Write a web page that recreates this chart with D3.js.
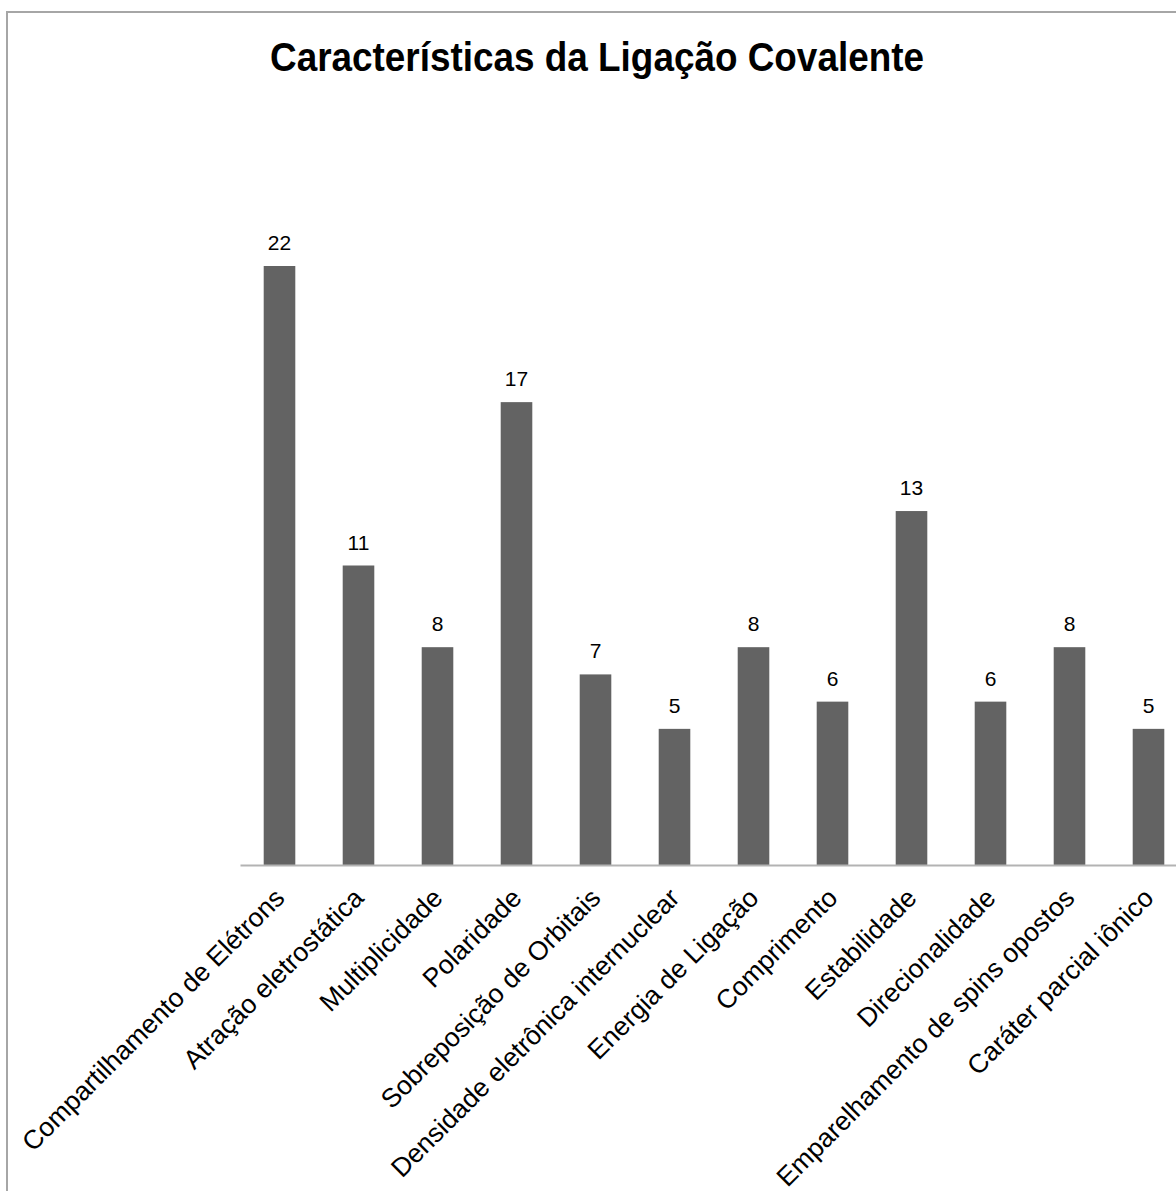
<!DOCTYPE html>
<html>
<head>
<meta charset="utf-8">
<script src="https://cdn.jsdelivr.net/npm/d3@7"></script>
<style>
  html, body { margin: 0; padding: 0; background: #fff; }
  svg { display: block; }
  text { font-family: "Liberation Sans", Arial, sans-serif; }
</style>
</head>
<body>
<svg id="chart" width="1176" height="1191"></svg>
<script>
const title = "Características da Ligação Covalente";
const categories = [
  "Compartilhamento de Elétrons",
  "Atração eletrostática",
  "Multiplicidade",
  "Polaridade",
  "Sobreposição de Orbitais",
  "Densidade eletrônica internuclear",
  "Energia de Ligação",
  "Comprimento",
  "Estabilidade",
  "Direcionalidade",
  "Emparelhamento de spins opostos",
  "Caráter parcial iônico"
];
const values = [22, 11, 8, 17, 7, 5, 8, 6, 13, 6, 8, 5];
const yDomain = [0, 25];

const svg = d3.select("#chart");

// outer frame (left and top edges visible)
svg.append("rect")
  .attr("x", 7).attr("y", 12)
  .attr("width", 1200).attr("height", 1200)
  .attr("fill", "none")
  .attr("stroke", "#a6a6a6")
  .attr("stroke-width", 2);

const plotLeft = 240, baseY = 865, step = 79;
const x = d3.scaleBand()
  .domain(categories)
  .range([plotLeft, plotLeft + step * categories.length])
  .paddingInner(0.6)
  .paddingOuter(0.3);

const unit = 599 / 22;
const y = d3.scaleLinear()
  .domain(yDomain)
  .range([baseY, baseY - unit * yDomain[1]]);

// bars
svg.append("g").selectAll("rect")
  .data(values)
  .join("rect")
  .attr("x", (d, i) => x(categories[i]))
  .attr("y", d => y(d))
  .attr("width", x.bandwidth())
  .attr("height", d => y(0) - y(d))
  .attr("fill", "#636363");

// value labels
svg.append("g").selectAll("text")
  .data(values)
  .join("text")
  .attr("x", (d, i) => x(categories[i]) + x.bandwidth() / 2)
  .attr("y", d => y(d) - 16)
  .attr("text-anchor", "middle")
  .attr("font-size", 21)
  .attr("fill", "#000")
  .text(d => d);

// x axis
const axis = svg.append("g")
  .attr("transform", `translate(0,${baseY})`)
  .call(d3.axisBottom(x).tickSize(0).tickSizeOuter(0));
axis.select(".domain")
  .attr("stroke", "#b3b3b3")
  .attr("stroke-width", 2);
axis.selectAll(".tick text")
  .attr("font-size", 26.5)
  .attr("font-family", "'Liberation Sans', Arial, sans-serif")
  .attr("fill", "#000")
  .attr("text-anchor", "end")
  .attr("y", 0)
  .attr("dy", "0.35em")
  .attr("transform", "translate(0,28) rotate(-45)");

// title
svg.append("text")
  .attr("x", 597)
  .attr("y", 71)
  .attr("text-anchor", "middle")
  .attr("font-size", 40)
  .attr("font-weight", "bold")
  .attr("fill", "#000")
  .attr("textLength", 654)
  .attr("lengthAdjust", "spacingAndGlyphs")
  .text(title);
</script>
</body>
</html>
